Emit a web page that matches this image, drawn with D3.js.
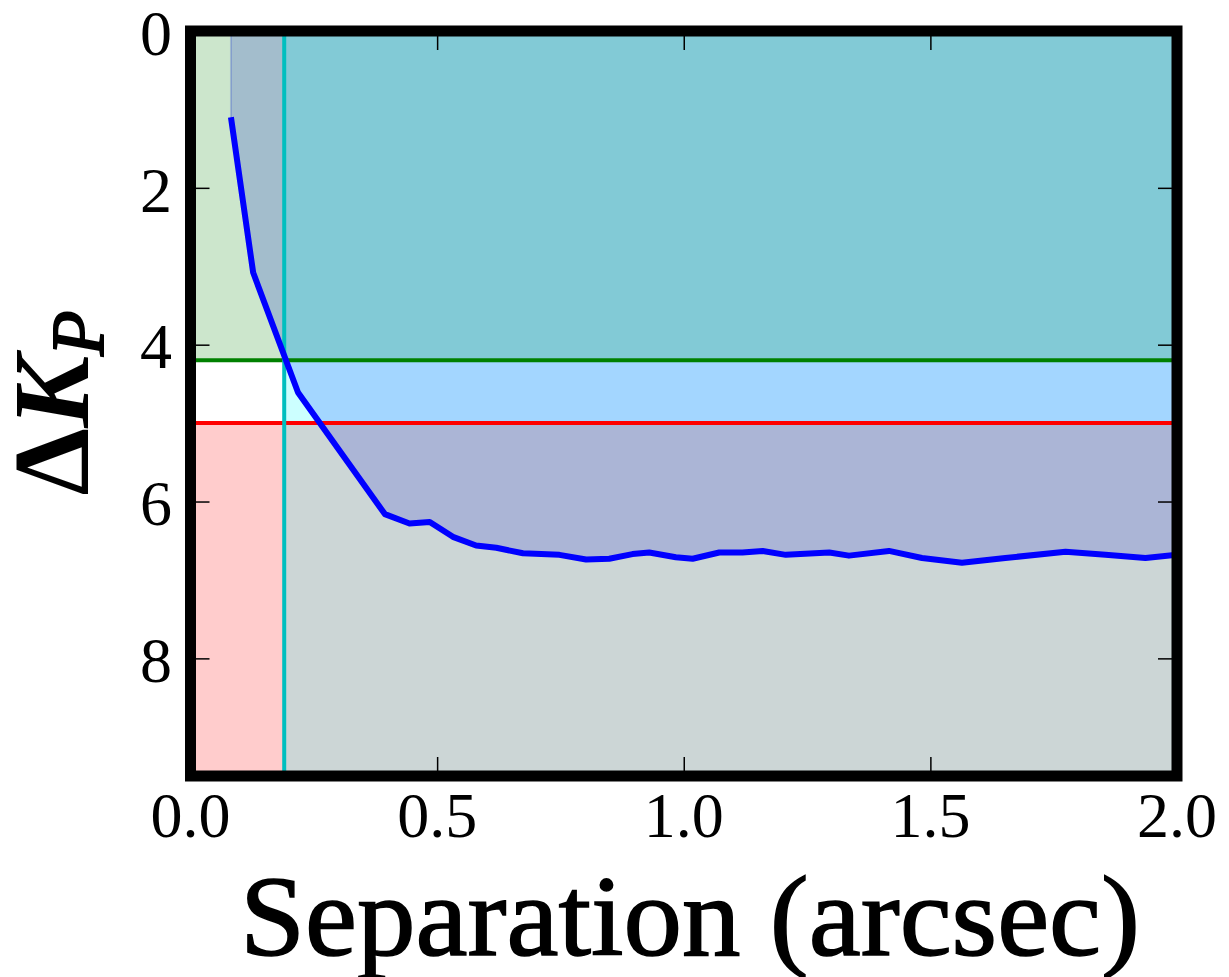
<!DOCTYPE html>
<html>
<head>
<meta charset="utf-8">
<title>contrast curve</title>
<script type="text/javascript" src="https://d3js.org/d3.v7.min.js"></script>
<style>
  body { margin: 0; background: #fff; }
  text { font-family: "Liberation Serif", "DejaVu Serif", serif; fill: #000; }
</style>
</head>
<body>
<script type="text/javascript">
// contrast curve
var sep = [0.082, 0.127, 0.218, 0.394, 0.444, 0.485, 0.532, 0.579, 0.62, 0.674, 0.748, 0.802, 0.849,
           0.896, 0.930, 0.984, 1.018, 1.072, 1.119, 1.160, 1.207, 1.295, 1.335, 1.416, 1.483, 1.564,
           1.652, 1.774, 1.855, 1.936, 2.0]
var dkp = [1.10, 3.08, 4.61, 6.16, 6.28, 6.26, 6.45, 6.56, 6.59, 6.66, 6.68, 6.74, 6.73,
           6.67, 6.65, 6.71, 6.73, 6.65, 6.65, 6.63, 6.68, 6.65, 6.69, 6.63, 6.72, 6.78,
           6.72, 6.64, 6.68, 6.72, 6.68]
var sepLimit = 0.19   // vertical cyan line
var greenLevel = 4.2
var redLevel = 5.0
var xTicks = [0, 0.5, 1.0, 1.5, 2.0]
var yTicks = [0, 2, 4, 6, 8]

var width = 1229, height = 977
var svg = d3.select("body").append("svg")
    .attr("width", width).attr("height", height)

var x = d3.scaleLinear().domain([0, 2]).range([190.5, 1177])
var y = d3.scaleLinear().domain([0, 9.5]).range([31, 776])

svg.append("defs").append("clipPath").attr("id", "clip")
  .append("rect").attr("x", x(0)).attr("y", y(0))
  .attr("width", x(2) - x(0)).attr("height", y(9.5) - y(0))

var plot = svg.append("g").attr("clip-path", "url(#clip)")

var pts = sep.map(function(s, i) { return [s, dkp[i]] })

// blue fill above the curve goes in first, the bands are laid over it
var area = d3.area()
    .x(function(d) { return x(d[0]) })
    .y0(y(0))
    .y1(function(d) { return y(d[1]) })
plot.append("path").attr("d", area(pts))
    .attr("fill", "rgb(0,0,255)").attr("fill-opacity", 0.2)
    .attr("stroke", "rgb(0,0,255)").attr("stroke-opacity", 0.2).attr("stroke-width", 2)

plot.append("rect").attr("x", x(0)).attr("y", y(0))
    .attr("width", x(2) - x(0)).attr("height", y(greenLevel) - y(0))
    .attr("fill", "rgb(0,128,0)").attr("fill-opacity", 0.2)
plot.append("rect").attr("x", x(0)).attr("y", y(redLevel))
    .attr("width", x(2) - x(0)).attr("height", y(9.5) - y(redLevel))
    .attr("fill", "rgb(255,0,0)").attr("fill-opacity", 0.2)
plot.append("rect").attr("x", x(sepLimit)).attr("y", y(0))
    .attr("width", x(2) - x(sepLimit)).attr("height", y(9.5) - y(0))
    .attr("fill", "rgb(0,255,255)").attr("fill-opacity", 0.2)

// limit lines
plot.append("line").attr("x1", x(0)).attr("x2", x(2))
    .attr("y1", y(greenLevel)).attr("y2", y(greenLevel))
    .attr("stroke", "rgb(0,128,0)").attr("stroke-width", 4)
plot.append("line").attr("x1", x(0)).attr("x2", x(2))
    .attr("y1", y(redLevel)).attr("y2", y(redLevel))
    .attr("stroke", "rgb(255,0,0)").attr("stroke-width", 4)
plot.append("line").attr("x1", x(sepLimit)).attr("x2", x(sepLimit))
    .attr("y1", y(0)).attr("y2", y(9.5))
    .attr("stroke", "rgb(0,191,191)").attr("stroke-width", 4)

var line = d3.line().x(function(d) { return x(d[0]) }).y(function(d) { return y(d[1]) })
plot.append("path").attr("d", line(pts))
    .attr("fill", "none").attr("stroke", "rgb(0,0,255)").attr("stroke-width", 6)
    .attr("stroke-linejoin", "round")

// ticks (inside, on all four sides)
var tickLen = 19
svg.append("g").attr("transform", "translate(0," + y(9.5) + ")")
  .call(d3.axisTop(x).tickValues(xTicks).tickSize(tickLen).tickFormat(""))
svg.append("g").attr("transform", "translate(0," + y(0) + ")")
  .call(d3.axisBottom(x).tickValues(xTicks).tickSize(tickLen).tickFormat(""))
svg.append("g").attr("transform", "translate(" + x(0) + ",0)")
  .call(d3.axisRight(y).tickValues(yTicks).tickSize(tickLen).tickFormat(""))
svg.append("g").attr("transform", "translate(" + x(2) + ",0)")
  .call(d3.axisLeft(y).tickValues(yTicks).tickSize(tickLen).tickFormat(""))
svg.selectAll(".domain").remove()
svg.selectAll(".tick line").attr("stroke", "#000").attr("stroke-width", 1.5)

// tick labels
svg.append("g").selectAll("text").data(xTicks).enter().append("text")
    .attr("x", function(d) { return x(d) }).attr("y", 837)
    .attr("text-anchor", "middle").attr("font-size", 64)
    .text(function(d) { return d3.format(".1f")(d) })
svg.append("g").selectAll("text").data(yTicks).enter().append("text")
    .attr("x", 172).attr("y", function(d) { return y(d) + 2 }).attr("dy", "0.34em")
    .attr("text-anchor", "end").attr("font-size", 64)
    .text(function(d) { return d })

// frame
svg.append("rect").attr("x", x(0)).attr("y", y(0))
    .attr("width", x(2) - x(0)).attr("height", y(9.5) - y(0))
    .attr("fill", "none").attr("stroke", "#000").attr("stroke-width", 11)

// axis labels
svg.append("text").attr("x", 690).attr("y", 955)
    .attr("text-anchor", "middle").attr("font-size", 114)
    .attr("stroke", "#000").attr("stroke-width", 1.5)
    .attr("textLength", 900).attr("lengthAdjust", "spacingAndGlyphs")
    .text("Separation (arcsec)")

var yl = svg.append("text")
    .attr("transform", "translate(88," + 403 + ") rotate(-90)")
    .attr("text-anchor", "middle").attr("font-size", 108).attr("font-weight", "bold")
yl.append("tspan").text("Δ")
yl.append("tspan").attr("font-style", "italic").text("K")
yl.append("tspan").attr("font-style", "italic").attr("font-weight", "normal")
  .attr("font-size", 74).attr("stroke", "#000").attr("stroke-width", 2)
  .attr("dy", 15).text("P")
</script>
</body>
</html>
